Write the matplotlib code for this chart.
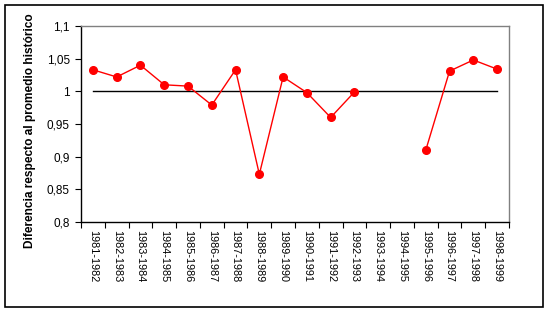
import matplotlib
matplotlib.use("Agg")
import matplotlib.pyplot as plt
from matplotlib.patches import Rectangle
import numpy as np

categories = ["1981-1982", "1982-1983", "1983-1984", "1984-1985", "1985-1986",
              "1986-1987", "1987-1988", "1988-1989", "1989-1990", "1990-1991",
              "1991-1992", "1992-1993", "1993-1994", "1994-1995", "1995-1996",
              "1996-1997", "1997-1998", "1998-1999"]
values = [1.033, 1.022, 1.040, 1.010, 1.008, 0.979, 1.033, 0.873, 1.022, 0.998,
          0.960, 0.999, np.nan, np.nan, 0.910, 1.031, 1.048, 1.034]
reference = [1.0] * len(categories)
yticks = [0.8, 0.85, 0.9, 0.95, 1.0, 1.05, 1.1]
ytick_labels = ["0,8", "0,85", "0,9", "0,95", "1", "1,05", "1,1"]
ylabel = "Diferencia respecto al promedio histórico"

plt.rcParams['font.family'] = ['Liberation Sans', 'DejaVu Sans']

W, H = 550, 313
fig = plt.figure(figsize=(W / 100, H / 100), dpi=100)
fig.patch.set_facecolor("white")

# outer border
fig.patches.append(Rectangle((5 / W, 1 - 307 / H), 538 / W, 302 / H,
                             transform=fig.transFigure, fill=False,
                             edgecolor="black", linewidth=1.2))

left, right, top, bottom = 81, 509, 26, 222
ax = fig.add_axes([left / W, 1 - bottom / H, (right - left) / W, (bottom - top) / H])

x = np.arange(len(categories))
ax.plot(x, reference, color="black", linewidth=1.0, zorder=2)
ax.plot(x, values, color="#ff0000", linewidth=1.0, marker="o", markersize=5.5,
        markerfacecolor="#ff0000", markeredgecolor="#ff0000", zorder=3)

ax.set_xlim(-0.5, len(categories) - 0.5)
ax.set_ylim(0.8, 1.1)
ax.set_yticks(yticks)
ax.set_yticklabels(ytick_labels, fontsize=8.5)

ax.set_xticks(np.arange(len(categories) + 1) - 0.5)
ax.set_xticklabels([])
ax.set_xticks(x, minor=True)
ax.set_xticklabels(categories, minor=True, rotation=-90, fontsize=7.8)
ax.tick_params(axis="x", which="minor", length=0, pad=6)
ax.tick_params(axis="x", which="major", length=4, direction="out", color="black")
ax.tick_params(axis="y", length=4, direction="out", color="black", pad=4)

for s in ["top", "right"]:
    ax.spines[s].set_color("#808080")
    ax.spines[s].set_linewidth(1.0)
for s in ["left", "bottom"]:
    ax.spines[s].set_color("black")
    ax.spines[s].set_linewidth(1.0)

fig.text(30 / W, 1 - 131 / H, ylabel, rotation=90, ha="center", va="center",
         fontsize=8.6, fontweight="bold")

fig.savefig("out.png", dpi=100, facecolor="white")
